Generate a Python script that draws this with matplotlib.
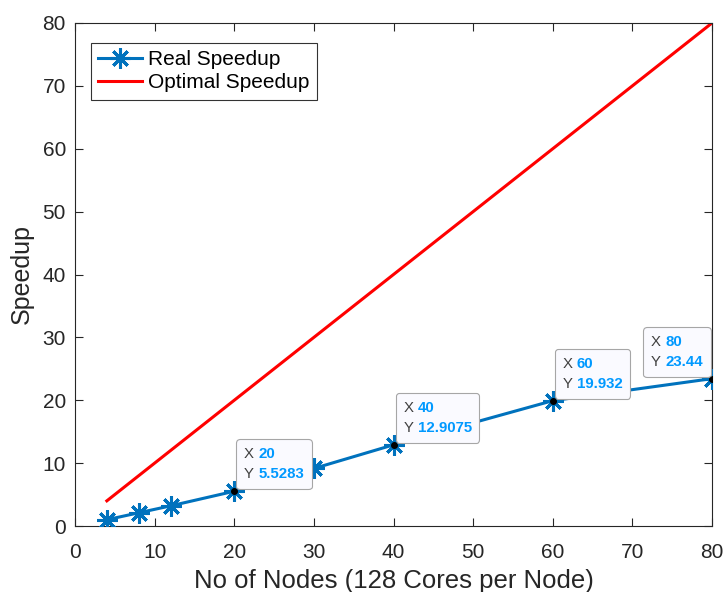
import matplotlib
matplotlib.use("Agg")
import matplotlib.pyplot as plt
from matplotlib.offsetbox import TextArea, HPacker, VPacker, AnnotationBbox

plt.rcParams['font.family'] = ['Liberation Sans', 'DejaVu Sans']

nodes = [4, 8, 12, 20, 30, 40, 60, 80]
real_speedup = [1.0, 2.1, 3.2, 5.5283, 9.15, 12.9075, 19.932, 23.44]
optimal_x = [4, 80]
optimal_y = [4, 80]
tip_x = [20, 40, 60, 80]
tip_y = [5.5283, 12.9075, 19.932, 23.44]
tip_labels = ["5.5283", "12.9075", "19.932", "23.44"]
xticks = [0, 10, 20, 30, 40, 50, 60, 70, 80]
yticks = [0, 10, 20, 30, 40, 50, 60, 70, 80]

blue = (0, 0.447, 0.741)
axc = (0.15, 0.15, 0.15)

fig = plt.figure(figsize=(7.28, 5.92), dpi=100)
ax = fig.add_axes([75 / 728, 1 - 526 / 592, 637 / 728, 503 / 592])

ax.plot(nodes, real_speedup, color=blue, lw=2.2, marker=(8, 2, 0),
        markersize=14.5, markeredgewidth=2.2, label="Real Speedup", zorder=3)
ax.plot(optimal_x, optimal_y, color='red', lw=2.2, label="Optimal Speedup", zorder=2)

ax.set_xlim(0, 80)
ax.set_ylim(0, 80)
ax.set_xticks(xticks)
ax.set_yticks(yticks)
ax.tick_params(direction='in', top=True, right=True, length=6, width=0.8,
               colors=axc, labelsize=15, labelcolor=axc)
ax.tick_params(axis='x', pad=12.5)
ax.tick_params(axis='y', pad=6.5)
for s in ax.spines.values():
    s.set_color(axc)
    s.set_linewidth(0.8)
ax.set_xlabel("No of Nodes (128 Cores per Node)", fontsize=18.5, color=axc, labelpad=5)
ax.set_ylabel("Speedup", fontsize=18, color=axc, labelpad=6)

leg = ax.legend(loc='upper left', fontsize=15, frameon=True, fancybox=False,
                edgecolor='black', bbox_to_anchor=(16 / 637, 1 - 20 / 503),
                borderaxespad=0, handlelength=2.1, borderpad=0.35,
                labelspacing=0.2, handletextpad=0.3)
leg.get_frame().set_linewidth(0.8)

# data tips
ax.plot(tip_x, tip_y, 'o', color='black', markersize=4, zorder=5)
tipblue = (0.0, 0.6, 1.0)
tipgray = (0.25, 0.25, 0.25)
fs = 10.8
padpt = 5.6
for x, y, lab in zip(tip_x, tip_y, tip_labels):
    row1 = HPacker(children=[TextArea("X", textprops=dict(color=tipgray, fontsize=fs)),
                             TextArea(f"{x}", textprops=dict(color=tipblue, fontsize=fs, fontweight='bold'))],
                   pad=0, sep=3)
    row2 = HPacker(children=[TextArea("Y", textprops=dict(color=tipgray, fontsize=fs)),
                             TextArea(lab, textprops=dict(color=tipblue, fontsize=fs, fontweight='bold'))],
                   pad=0, sep=3)
    box = VPacker(children=[row1, row2], pad=0, sep=4.5, align='left')
    if x == 80:
        xybox = (-1 - padpt, 1 + padpt)
        align = (1, 0)
    else:
        xybox = (1.5 + padpt, 1.5 + padpt)
        align = (0, 0)
    ab = AnnotationBbox(box, (x, y), xybox=xybox, xycoords='data',
                        boxcoords='offset points', box_alignment=align,
                        pad=0.0, frameon=True, annotation_clip=False, fontsize=10,
                        bboxprops=dict(boxstyle=f'round,pad={padpt/10},rounding_size=0.25',
                                       facecolor=(0.98, 0.98, 1.0),
                                       edgecolor=(0.65, 0.65, 0.65), lw=0.8),
                        zorder=6)
    ax.add_artist(ab)

fig.savefig("out.png", dpi=100, facecolor='white')
